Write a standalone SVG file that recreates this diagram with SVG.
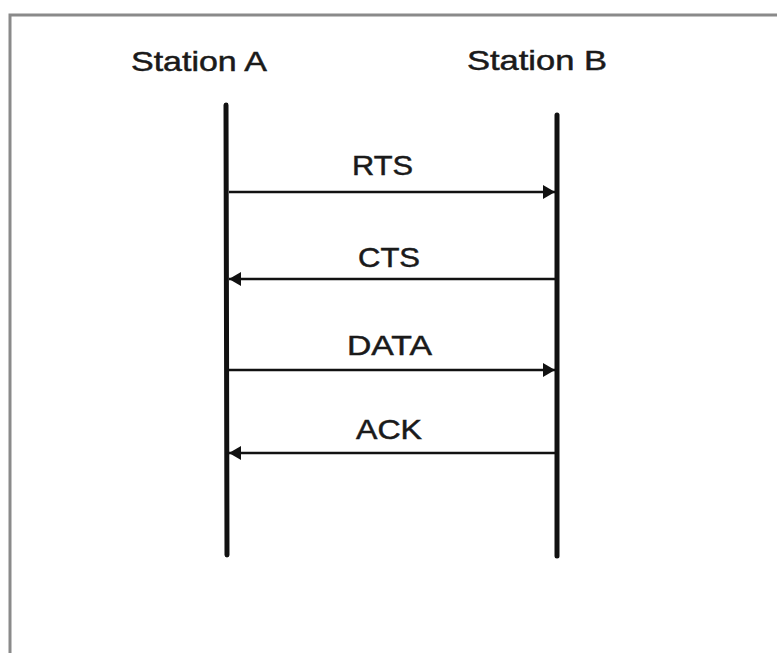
<svg xmlns="http://www.w3.org/2000/svg" width="777" height="653" viewBox="0 0 777 653">
<defs>
<style>
.lbl{font-family:"Liberation Sans",Arial,sans-serif;font-size:28px;fill:#1a1a1a;stroke:#1a1a1a;stroke-width:0.5;}
.life{stroke:#111;stroke-width:5;stroke-linecap:round;fill:none;}
.msg{stroke:#111;stroke-width:2.6;fill:none;}
.frame{stroke:#8a8a8a;stroke-width:3;fill:none;}
</style>
<marker id="ah" viewBox="0 0 12 14" refX="12" refY="7" markerWidth="12" markerHeight="14" markerUnits="userSpaceOnUse" orient="auto">
<path d="M0,0 L12,7 L0,14 Z" fill="#111"/>
</marker>
</defs>
<rect width="777" height="653" fill="#fff"/>
<path class="frame" d="M10,653 L10,15 L777,15"/>
<g id="stationA">
<text class="lbl" x="131" y="71" textLength="136" lengthAdjust="spacingAndGlyphs">Station A</text>
<line class="life" x1="226" y1="105" x2="227" y2="555"/>
</g>
<g id="stationB">
<text class="lbl" x="467" y="70" textLength="140" lengthAdjust="spacingAndGlyphs">Station B</text>
<line class="life" x1="557" y1="115" x2="557" y2="556"/>
</g>
<g id="connectors">
<line class="msg" x1="229" y1="192" x2="555" y2="192" marker-end="url(#ah)"/>
<line class="msg" x1="555" y1="279" x2="229" y2="279" marker-end="url(#ah)"/>
<line class="msg" x1="229" y1="370" x2="555" y2="370" marker-end="url(#ah)"/>
<line class="msg" x1="555" y1="453" x2="229" y2="453" marker-end="url(#ah)"/>
</g>
<g id="labels">
<text class="lbl" x="352" y="175" textLength="61" lengthAdjust="spacingAndGlyphs">RTS</text>
<text class="lbl" x="358" y="267" textLength="62" lengthAdjust="spacingAndGlyphs">CTS</text>
<text class="lbl" x="347" y="355" textLength="85" lengthAdjust="spacingAndGlyphs">DATA</text>
<text class="lbl" x="356" y="439" textLength="66" lengthAdjust="spacingAndGlyphs">ACK</text>
</g>
</svg>
